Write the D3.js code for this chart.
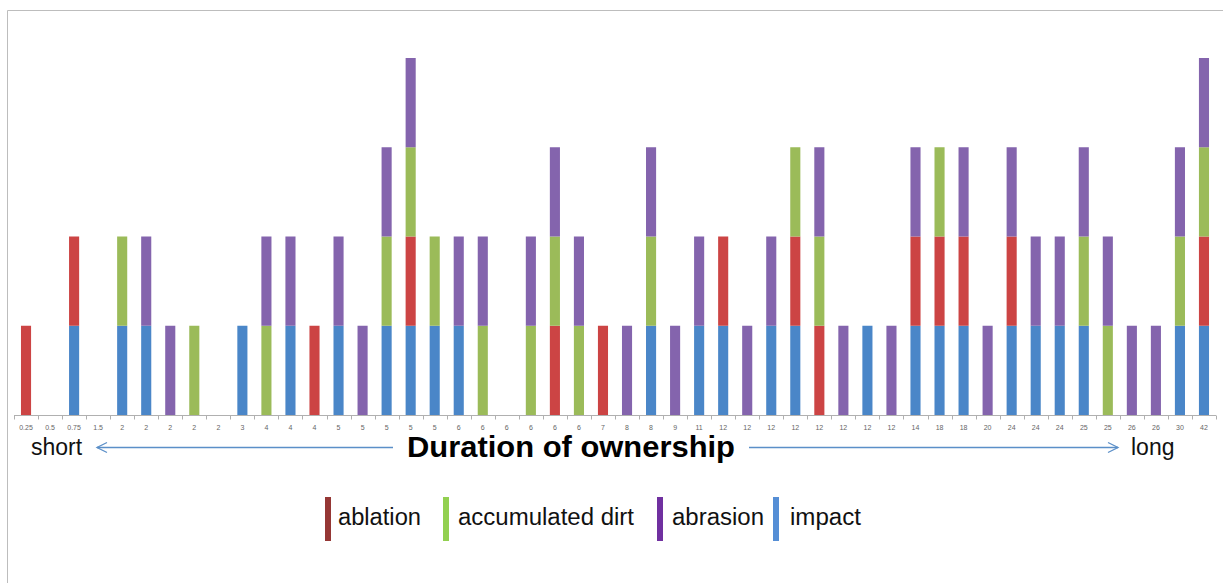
<!DOCTYPE html>
<html><head><meta charset="utf-8">
<script src="https://cdn.jsdelivr.net/npm/d3@7"></script>
<style>body{margin:0;background:#fff;}svg{display:block;font-family:Arial,"Liberation Sans",sans-serif;}</style>
</head><body><svg id="c" width="1223" height="583"></svg>
<script>
const categories = ["0.25","0.5","0.75","1.5","2","2","2","2","2","3","4","4","4","5","5","5","5","5","6","6","6","6","6","6","7","8","8","9","11","12","12","12","12","12","12","12","12","14","18","18","20","24","24","24","25","25","26","26","30","42"];
const impact   = [0,0,1,0,1,1,0,0,0,1,0,1,0,1,0,1,1,1,1,0,0,0,0,0,0,0,1,0,1,1,0,1,1,0,0,1,0,1,1,1,0,1,1,1,1,0,0,0,1,1];
const ablation = [1,0,1,0,0,0,0,0,0,0,0,0,1,0,0,0,1,0,0,0,0,0,1,0,1,0,0,0,0,1,0,0,1,1,0,0,0,1,1,1,0,1,0,0,0,0,0,0,0,1];
const dirt     = [0,0,0,0,1,0,0,1,0,0,1,0,0,0,0,1,1,1,0,1,0,1,1,1,0,0,1,0,0,0,0,0,1,1,0,0,0,0,1,0,0,0,0,0,1,1,0,0,1,1];
const abrasion = [0,0,0,0,0,1,1,0,0,0,1,1,0,1,1,1,1,0,1,1,0,1,1,1,0,1,1,1,1,0,1,1,0,1,1,0,1,1,0,1,1,1,1,1,1,1,1,1,1,1];
const seriesKeys = ["impact","ablation","dirt","abrasion"];
const barColors = {impact:"#4A86C8", ablation:"#CC4444", dirt:"#9BBB59", abrasion:"#8464AD"};
const legendItems = [
  {label:"ablation", color:"#953735"},
  {label:"accumulated dirt", color:"#92D050"},
  {label:"abrasion", color:"#7030A0"},
  {label:"impact", color:"#558ED5"}
];

const rows = categories.map((c,i)=>({i, cat:c, impact:impact[i], ablation:ablation[i], dirt:dirt[i], abrasion:abrasion[i]}));
const stack = d3.stack().keys(seriesKeys)(rows);

const svg = d3.select("#c");
// outer frame
svg.append("line").attr("x1",7.5).attr("x2",1223).attr("y1",10.5).attr("y2",10.5).attr("stroke","#bdbdbd").attr("stroke-width",1);
svg.append("line").attr("x1",7.5).attr("x2",7.5).attr("y1",10.5).attr("y2",583).attr("stroke","#bdbdbd").attr("stroke-width",1);

const x = d3.scaleBand().domain(d3.range(categories.length)).range([14,1216]).paddingInner(0.58).paddingOuter(0.29);
const y = d3.scaleLinear().domain([0,4]).range([415,58]);

const g = svg.append("g");
g.selectAll("g.s").data(stack).join("g").attr("fill",d=>barColors[d.key])
 .selectAll("rect").data(d=>d).join("rect")
 .attr("x",d=>x(d.data.i)).attr("width",x.bandwidth())
 .attr("y",d=>y(d[1])).attr("height",d=>y(d[0])-y(d[1]));

// axis
const step = x.step();
const axisG = svg.append("g").attr("transform","translate(0,415.5)");
axisG.append("line").attr("x1",14).attr("x2",1216).attr("stroke","#b0b0b0");
axisG.selectAll("line.t").data(d3.range(categories.length+1)).join("line")
 .attr("class","t").attr("x1",i=>Math.round(14+i*step)+0.5).attr("x2",i=>Math.round(14+i*step)+0.5)
 .attr("y1",0).attr("y2",4).attr("stroke","#b0b0b0");
axisG.selectAll("text").data(categories).join("text")
 .attr("x",(d,i)=>x(i)+x.bandwidth()/2).attr("y",14)
 .attr("text-anchor","middle").attr("font-size",7).attr("fill","#666").text(d=>d);

// duration label & arrows
const arrowColor = "#5B8FC8";
svg.append("text").attr("x",31).attr("y",455).attr("font-size",23).attr("fill","#111").text("short");
svg.append("text").attr("x",1131).attr("y",455).attr("font-size",23).attr("fill","#111").text("long");
svg.append("text").attr("x",571).attr("y",457).attr("text-anchor","middle").attr("font-size",30)
  .attr("font-weight","bold").attr("fill","#000").attr("textLength",328).attr("lengthAdjust","spacingAndGlyphs").text("Duration of ownership");
const ay = 447.5;
svg.append("line").attr("x1",97).attr("x2",393).attr("y1",ay).attr("y2",ay).attr("stroke",arrowColor).attr("stroke-width",1.3);
svg.append("path").attr("d",`M107,${ay-5} L97,${ay} L107,${ay+5}`).attr("fill","none").attr("stroke",arrowColor).attr("stroke-width",1.3);
svg.append("line").attr("x1",749).attr("x2",1118).attr("y1",ay).attr("y2",ay).attr("stroke",arrowColor).attr("stroke-width",1.3);
svg.append("path").attr("d",`M1108,${ay-5} L1118,${ay} L1108,${ay+5}`).attr("fill","none").attr("stroke",arrowColor).attr("stroke-width",1.3);

// legend
const legendX = [325,443,657,773];
const legendTextX = [338,458,672,790];
const legendTextW = [83,176,92,71];
const lg = svg.append("g");
legendItems.forEach((it,k)=>{
  lg.append("rect").attr("x",legendX[k]).attr("y",497).attr("width",6).attr("height",44).attr("fill",it.color);
  lg.append("text").attr("x",legendTextX[k]).attr("y",525).attr("font-size",23)
    .attr("textLength",legendTextW[k]).attr("lengthAdjust","spacingAndGlyphs").attr("fill","#111").text(it.label);
});
</script></body></html>
